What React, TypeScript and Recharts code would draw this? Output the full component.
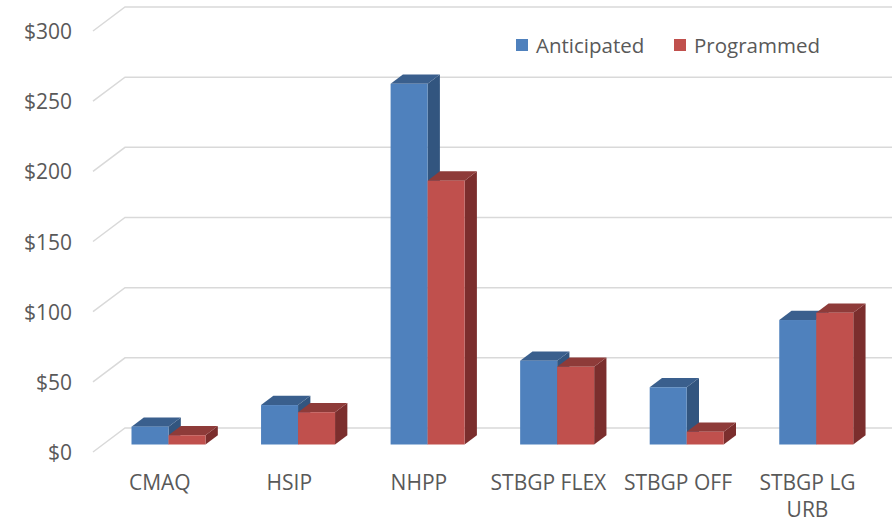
import React from "react";
import { BarChart, Bar, XAxis, YAxis, CartesianGrid, Legend } from "recharts";

const categories = ["CMAQ", "HSIP", "NHPP", "STBGP FLEX", "STBGP OFF", "STBGP LG URB"];
const anticipated = [12.7, 28.1, 257, 59.7, 40.8, 88.7];
const programmed = [6.6, 23, 188, 55.4, 9.1, 93.9];
const yTicks = [0, 50, 100, 150, 200, 250, 300];

const data = categories.map((c, i) => ({
  name: c,
  Anticipated: anticipated[i],
  Programmed: programmed[i],
}));

const FONT = "'Open Sans', sans-serif";
const TEXT = "#595959";
const GRID = "#d9d9d9";

// oblique depth geometry
const BACK_DX = 21.5;
const BACK_DY = -16.5;
const FRONT_DX = -10.5;
const FRONT_DY = 7.5;
const BAR_DX = 12.3;
const BAR_DY = -9.3;

const Bar3D = (props: any) => {
  const { x, y, width, height, front, top, side } = props;
  if (x == null || y == null) return null;
  const w = width;
  const h = height;
  const topPts = `${x},${y} ${x + BAR_DX},${y + BAR_DY} ${x + w + BAR_DX},${y + BAR_DY} ${x + w},${y}`;
  const sidePts = `${x + w},${y} ${x + w + BAR_DX},${y + BAR_DY} ${x + w + BAR_DX},${y + h + BAR_DY} ${x + w},${y + h}`;
  return (
    <g>
      <polygon points={sidePts} fill={side} />
      <polygon points={topPts} fill={top} />
      <rect x={x} y={y} width={w} height={h} fill={front} />
    </g>
  );
};

const gridLine = (props: any) => {
  const { x1, x2, y1, index } = props;
  const d = `M${x1 + FRONT_DX},${y1 + FRONT_DY} L${x1 + BACK_DX},${y1 + BACK_DY} L${x2 + BACK_DX + 20},${y1 + BACK_DY}`;
  return <path key={`g-${index}-${y1}`} d={d} stroke={GRID} strokeWidth={1.5} fill="none" />;
};

const YTick = (props: any) => {
  const { x, y, payload } = props;
  return (
    <text
      x={x - 31.5}
      y={y + FRONT_DY}
      textAnchor="end"
      dominantBaseline="central"
      fontFamily={FONT}
      fontSize={21}
      fill={TEXT}
    >
      {"$" + payload.value}
    </text>
  );
};

const wrap = (s: string, max: number) => {
  const words = s.split(" ");
  const lines: string[] = [];
  let cur = "";
  words.forEach((w) => {
    const t = cur ? cur + " " + w : w;
    if (t.length > max && cur) {
      lines.push(cur);
      cur = w;
    } else cur = t;
  });
  if (cur) lines.push(cur);
  return lines;
};

const XTick = (props: any) => {
  const { x, y, payload } = props;
  const lines = wrap(String(payload.value), 10);
  return (
    <g>
      {lines.map((l, i) => (
        <text
          key={i}
          x={x - 8.5}
          y={y + 37.5 + i * 27}
          textAnchor="middle"
          dominantBaseline="central"
          fontFamily={FONT}
          fontSize={21}
          fill={TEXT}
        >
          {l}
        </text>
      ))}
    </g>
  );
};

const LegendContent = (props: any) => {
  const { payload } = props;
  const offsets = [0, 158];
  return (
    <svg width={320} height={30} style={{ overflow: "visible", display: "block" }}>
      {(payload || []).map((p: any, i: number) => (
        <g key={p.value} transform={`translate(${offsets[i]},0)`}>
          <rect x={0} y={9} width={12} height={12} fill={p.color} />
          <text
            x={20}
            y={15}
            dominantBaseline="central"
            fontFamily={FONT}
            fontSize={20.5}
            fill={TEXT}
          >
            {p.value}
          </text>
        </g>
      ))}
    </svg>
  );
};

export default function App() {
  return (
    <div style={{ position: "absolute", left: 0, top: 0, background: "#fff" }}>
      <BarChart
        width={892}
        height={522}
        data={data}
        margin={{ top: 23.5, right: 11.2, bottom: 0, left: 0 }}
        barSize={37}
        barGap={0}
      >
        <CartesianGrid vertical={false} horizontal={gridLine} stroke={GRID} />
        <XAxis
          dataKey="name"
          axisLine={false}
          tickLine={false}
          tickSize={0}
          tickMargin={0}
          height={77.5}
          interval={0}
          tick={<XTick />}
        />
        <YAxis
          domain={[0, 300]}
          ticks={yTicks}
          width={103.5}
          axisLine={false}
          tickLine={false}
          tickSize={0}
          tickMargin={0}
          interval={0}
          tick={<YTick />}
        />
        <Legend
          layout="horizontal"
          verticalAlign="middle"
          align="center"
          content={<LegendContent />}
          wrapperStyle={{ position: "absolute", left: 516, top: 30, width: 320, height: 30 }}
        />
        <Bar
          dataKey="Anticipated"
          fill="#4F81BD"
          isAnimationActive={false}
          shape={(p: any) => <Bar3D {...p} front="#4F81BD" top="#3A5F8D" side="#32557F" />}
        />
        <Bar
          dataKey="Programmed"
          fill="#C0504D"
          isAnimationActive={false}
          shape={(p: any) => <Bar3D {...p} front="#C0504D" top="#8E3B39" side="#7B2E2D" />}
        />
      </BarChart>
    </div>
  );
}
